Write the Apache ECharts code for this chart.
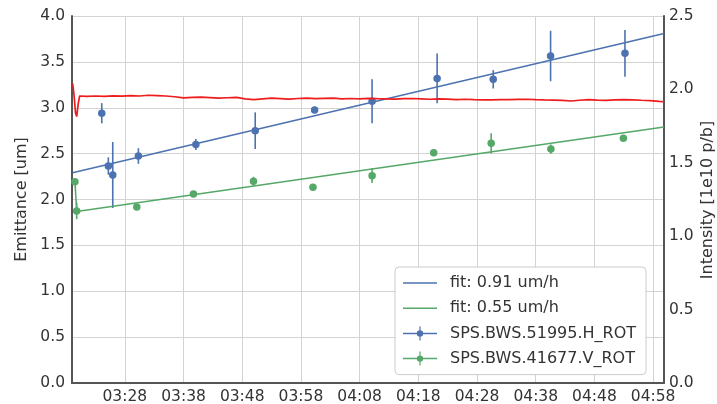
<!DOCTYPE html>
<html>
<head>
<meta charset="utf-8">
<script src="https://cdn.jsdelivr.net/npm/echarts@6/dist/echarts.min.js"></script>
<style>
html,body{margin:0;padding:0;background:#fff;}
#chart{width:717px;height:404px;}
</style>
</head>
<body>
<div id="chart"></div>
<script>
// Time values are minutes since midnight
var xMin = 199.0, xMax = 299.85;
var xTickValues = [208, 218, 228, 238, 248, 258, 268, 278, 288, 298];

// SPS.BWS.51995.H_ROT (horizontal emittance, um)
var hTimes  = [204.07, 205.19, 205.94, 210.31, 220.10, 230.21, 240.33, 250.12, 261.20, 270.76, 280.53, 293.20];
var hValues = [2.94, 2.365, 2.267, 2.474, 2.60, 2.75, 2.975, 3.07, 3.32, 3.31, 3.564, 3.593];
var hErrors = [0.11, 0.095, 0.36, 0.085, 0.06, 0.20, 0.035, 0.24, 0.27, 0.10, 0.275, 0.255];

// SPS.BWS.41677.V_ROT (vertical emittance, um)
var vTimes  = [199.50, 199.80, 210.04, 219.69, 229.92, 240.05, 250.12, 260.62, 270.41, 280.58, 292.93];
var vValues = [2.194, 1.875, 1.918, 2.06, 2.198, 2.133, 2.26, 2.51, 2.612, 2.55, 2.667];
var vErrors = [0.02, 0.09, 0.02, 0.02, 0.05, 0.02, 0.08, 0.02, 0.11, 0.05, 0.02];

// Fit lines (start / end)
var fitHTimes = [199.1, 299.85];
var fitHValues = [2.292, 3.81];
var fitVTimes = [199.8, 299.85];
var fitVValues = [1.87, 2.79];

// Intensity [1e10 p/b]
var intTimes = [199.12,199.35,199.60,199.80,200.05,200.30,201.5,203.0,204.5,206.0,207.5,209.0,210.5,212.0,213.5,215.0,216.5,218.0,219.5,221.0,222.5,224.0,225.5,227.0,228.5,230.0,231.5,233.0,234.5,236.0,237.5,239.0,240.5,242.0,243.5,245.0,246.5,248.0,249.5,251.0,252.5,254.0,255.5,257.0,258.5,260.0,261.5,263.0,264.5,266.0,267.5,269.0,270.5,272.0,273.5,275.0,276.5,278.0,279.5,281.0,282.5,284.0,285.5,287.0,288.5,290.0,291.5,293.0,294.5,296.0,297.5,299.0,299.85];
var intValues = [2.040,1.960,1.840,1.815,1.900,1.955,1.953,1.955,1.952,1.956,1.954,1.957,1.955,1.960,1.958,1.955,1.950,1.942,1.946,1.948,1.944,1.940,1.943,1.946,1.936,1.930,1.935,1.940,1.937,1.934,1.938,1.940,1.937,1.939,1.940,1.936,1.938,1.935,1.939,1.937,1.936,1.934,1.937,1.938,1.936,1.933,1.935,1.934,1.931,1.933,1.930,1.929,1.928,1.931,1.930,1.932,1.933,1.930,1.928,1.927,1.925,1.921,1.926,1.930,1.927,1.925,1.928,1.930,1.929,1.926,1.924,1.918,1.916];

var legendNames = ['fit: 0.91 um/h', 'fit: 0.55 um/h', 'SPS.BWS.51995.H_ROT', 'SPS.BWS.41677.V_ROT'];
var leftAxisName = 'Emittance [um]';
var rightAxisName = 'Intensity [1e10 p/b]';

var BLUE = '#4c72b0', GREEN = '#55a868', RED = '#ee1c1c';
var TXT = '#333333', AXIS = '#555555', GRID = '#d3d3d3';
var FONT = 'DejaVu Sans';

function zip() {
  var arrs = Array.prototype.slice.call(arguments);
  return arrs[0].map(function (_, i) { return arrs.map(function (a) { return a[i]; }); });
}
function fmtTime(v) {
  var t = Math.round(v);
  var h = Math.floor(t / 60), m = t % 60;
  return (h < 10 ? '0' : '') + h + ':' + (m < 10 ? '0' : '') + m;
}
function errRender(color) {
  return function (params, api) {
    var x = api.value(0), y = api.value(1), e = api.value(2);
    var p1 = api.coord([x, y - e]);
    var p2 = api.coord([x, y + e]);
    return {
      type: 'line',
      shape: { x1: p1[0], y1: p1[1], x2: p2[0], y2: p2[1] },
      style: { stroke: color, lineWidth: 1.6 }
    };
  };
}
// legend icons inside a 34x14 box (tiny corner specks fix the bounding box)
var CORNERS = 'M0,0 L0.02,0 L0,0.02 Z M34,14 L33.98,14 L34,13.98 Z ';
var ICON_LINE = 'path://' + CORNERS + 'M0,6.25 L34,6.25 L34,7.75 L0,7.75 Z';
var ICON_ERR = 'path://' + CORNERS +
  'M0,6.25 L34,6.25 L34,7.75 L0,7.75 Z M16.4,0 L17.6,0 L17.6,14 L16.4,14 Z ' +
  'M13.8,7 A3.2,3.2 0 1,1 20.2,7 A3.2,3.2 0 1,1 13.8,7 Z';

var chart = echarts.init(document.getElementById('chart'), null, { renderer: 'canvas' });
chart.setOption({
  animation: false,
  backgroundColor: '#ffffff',
  textStyle: { fontFamily: FONT },
  grid: { left: 72, right: 53, top: 16, bottom: 21, containLabel: false, outerBoundsMode: 'none' },
  graphic: [
    {
      type: 'text', x: 708, y: 200, rotation: Math.PI / 2, z: 10,
      style: { text: rightAxisName, fill: TXT, font: '16px "DejaVu Sans"', align: 'center', verticalAlign: 'middle' }
    }
  ],
  legend: {
    orient: 'vertical',
    left: 395, top: 267,
    padding: [8, 10, 8, 8],
    itemGap: 9.2,
    itemWidth: 34, itemHeight: 14,
    backgroundColor: '#ffffff',
    borderColor: '#cccccc', borderWidth: 1, borderRadius: 4,
    textStyle: { fontFamily: FONT, fontSize: 16, color: TXT, padding: [0, 0, 0, 8] },
    data: [
      { name: legendNames[0], icon: ICON_LINE, itemStyle: { color: BLUE, borderWidth: 0 } },
      { name: legendNames[1], icon: ICON_LINE, itemStyle: { color: GREEN, borderWidth: 0 } },
      { name: legendNames[2], icon: ICON_ERR, itemStyle: { color: BLUE, borderWidth: 0 } },
      { name: legendNames[3], icon: ICON_ERR, itemStyle: { color: GREEN, borderWidth: 0 } }
    ]
  },
  xAxis: {
    type: 'value', min: xMin, max: xMax,
    axisLine: { show: true, onZero: false, lineStyle: { color: AXIS, width: 2 } },
    axisTick: { show: false, customValues: xTickValues },
    axisLabel: { customValues: xTickValues, formatter: fmtTime, color: TXT, fontSize: 15.5, fontFamily: FONT, margin: 6 },
    splitLine: { show: true, lineStyle: { color: GRID, width: 1 } }
  },
  yAxis: [
    {
      type: 'value', min: 0, max: 4, interval: 0.5,
      name: leftAxisName, nameLocation: 'middle', nameGap: 41,
      nameTextStyle: { fontSize: 16, color: TXT, fontFamily: FONT },
      axisLine: { show: true, onZero: false, lineStyle: { color: AXIS, width: 2 } },
      axisTick: { show: false },
      axisLabel: { formatter: function (v) { return v.toFixed(1); }, color: TXT, fontSize: 15.5, fontFamily: FONT, margin: 7 },
      splitLine: { show: true, lineStyle: { color: GRID, width: 1 } }
    },
    {
      type: 'value', min: 0, max: 2.5, interval: 0.5, position: 'right',
      axisLine: { show: true, onZero: false, lineStyle: { color: AXIS, width: 2 } },
      axisTick: { show: false },
      axisLabel: { formatter: function (v) { return v.toFixed(1); }, color: TXT, fontSize: 15.5, fontFamily: FONT, margin: 5 },
      splitLine: { show: false }
    }
  ],
  series: [
    {
      type: 'custom', name: 'errH', renderItem: errRender(BLUE),
      encode: { x: 0, y: 1 }, data: zip(hTimes, hValues, hErrors), z: 3, silent: true
    },
    {
      type: 'custom', name: 'errV', renderItem: errRender(GREEN),
      encode: { x: 0, y: 1 }, data: zip(vTimes, vValues, vErrors), z: 3, silent: true
    },
    {
      type: 'line', name: 'vJoin', data: zip(vTimes.slice(0, 2), vValues.slice(0, 2)),
      symbol: 'none', lineStyle: { color: GREEN, width: 1.6 }, z: 3
    },
    {
      type: 'line', name: legendNames[0], data: zip(fitHTimes, fitHValues),
      symbol: 'none', color: BLUE, lineStyle: { color: BLUE, width: 1.5 }, z: 4
    },
    {
      type: 'line', name: legendNames[1], data: zip(fitVTimes, fitVValues),
      symbol: 'none', color: GREEN, lineStyle: { color: GREEN, width: 1.5 }, z: 4
    },
    {
      type: 'scatter', name: legendNames[2], data: zip(hTimes, hValues),
      symbol: 'circle', symbolSize: 7.5, itemStyle: { color: BLUE, opacity: 1 }, z: 5
    },
    {
      type: 'scatter', name: legendNames[3], data: zip(vTimes, vValues),
      symbol: 'circle', symbolSize: 7.5, itemStyle: { color: GREEN, opacity: 1 }, z: 5
    },
    {
      type: 'line', name: 'intensity', yAxisIndex: 1, data: zip(intTimes, intValues),
      symbol: 'none', lineStyle: { color: RED, width: 1.7 }, z: 6
    }
  ]
});
</script>
</body>
</html>
